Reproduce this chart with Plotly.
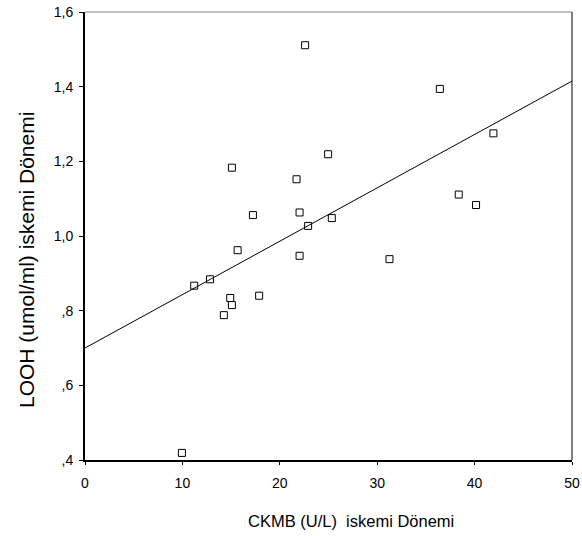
import plotly.graph_objects as go

ckmb = [9.95, 11.21, 12.83, 14.26, 14.91, 15.08, 15.08, 15.67, 17.24, 17.88, 21.72,
        22.03, 22.03, 22.60, 22.91, 24.96, 25.34, 31.26, 36.43, 38.37, 40.15, 41.93]
looh = [0.419, 0.867, 0.884, 0.788, 0.834, 0.815, 1.183, 0.962, 1.056, 0.840, 1.152,
        1.063, 0.947, 1.511, 1.027, 1.219, 1.048, 0.938, 1.394, 1.111, 1.083, 1.275]

fit_x = [0, 50]
fit_y = [0.70, 1.415]

x_ticks = [0, 10, 20, 30, 40, 50]
y_ticks = [0.4, 0.6, 0.8, 1.0, 1.2, 1.4, 1.6]
y_tick_labels = [",4", ",6", ",8", "1,0", "1,2", "1,4", "1,6"]

font = "Liberation Sans, Arial, sans-serif"

L, R, T, B = 85, 10, 12, 76
W, H = 582, 536
PW, PH = W - L - R, H - T - B

fig = go.Figure()
fig.add_trace(go.Scatter(x=fit_x, y=fit_y, mode="lines",
                         line=dict(color="black", width=1), hoverinfo="skip"))
fig.add_trace(go.Scatter(x=ckmb, y=looh, mode="markers",
                         marker=dict(symbol="square-open", size=7,
                                     color="black", line=dict(width=1))))

fig.update_layout(
    width=W, height=H,
    paper_bgcolor="white", plot_bgcolor="white",
    showlegend=False,
    margin=dict(l=L, r=R, t=T, b=B),
    font=dict(family=font, color="black"),
    xaxis=dict(range=[0, 50], tickvals=x_ticks, ticktext=[str(v) for v in x_ticks],
               showgrid=False, zeroline=False, showline=True, linecolor="black",
               linewidth=2, ticks="outside", ticklen=3, tickcolor="black",
               tickfont=dict(size=14), automargin=False, ticklabelstandoff=6),
    yaxis=dict(range=[0.4, 1.6], tickvals=y_ticks, ticktext=y_tick_labels,
               showgrid=False, zeroline=False, showline=True, linecolor="black",
               linewidth=2, ticks="outside", ticklen=4, tickcolor="black",
               tickfont=dict(size=14), automargin=False, ticklabelstandoff=3),
    annotations=[
        dict(text="CKMB (U/L)  iskemi Dönemi", xref="paper", yref="paper",
             x=(351 - L) / PW, y=-(521 - (H - B)) / PH, xanchor="center",
             yanchor="middle", showarrow=False, font=dict(size=16.5)),
        dict(text="LOOH (umol/ml) iskemi Dönemi", xref="paper", yref="paper",
             x=(26 - L) / PW, y=((H - B) - 260) / PH, xanchor="center",
             yanchor="middle", textangle=-90, showarrow=False, font=dict(size=21)),
    ],
    shapes=[
        dict(type="line", xref="paper", yref="paper", x0=0, x1=1, y0=1, y1=1,
             line=dict(color="#888888", width=1)),
        dict(type="line", xref="paper", yref="paper", x0=1, x1=1, y0=0, y1=1,
             line=dict(color="black", width=1)),
    ],
)

fig.write_html("out.html", config={"displayModeBar": False},
               post_script="document.body.style.margin='0';document.body.style.overflow='hidden';")
